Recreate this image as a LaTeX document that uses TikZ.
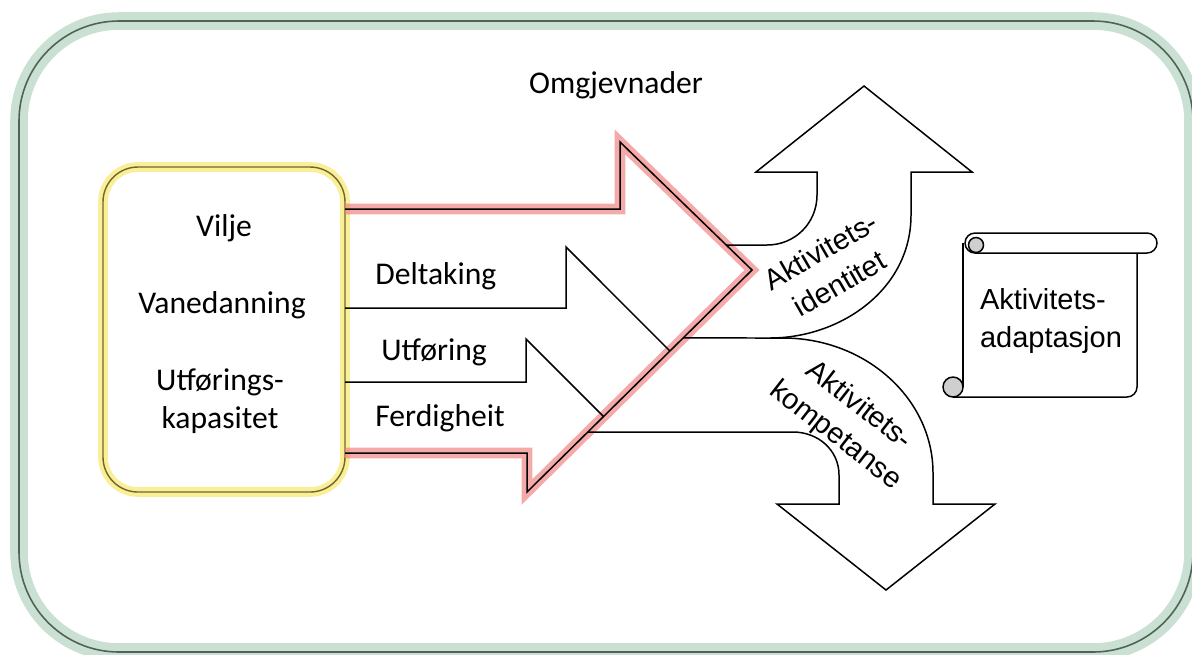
\documentclass[tikz,border=0pt]{standalone}
\usepackage{fontspec}
\usetikzlibrary{calc}
\setmainfont{Carlito}
\newfontfamily\arialfont{Liberation Sans}
\definecolor{framegreen}{HTML}{C9E0D3}
\definecolor{frameline}{HTML}{4F6357}
\definecolor{glowyellow}{HTML}{FAEE96}
\definecolor{boxline}{HTML}{6E6830}
\definecolor{glowred}{HTML}{F07C7C}
\definecolor{curlgray}{HTML}{CFCFCF}
\begin{document}
\begin{tikzpicture}[x=0.02cm, y=-0.02cm]
\tikzstyle{label}    = [font=\fontsize{18}{21.6}\selectfont, inner sep=0pt]
\tikzstyle{sublabel} = [font=\arialfont\fontsize{16.5}{21.5}\selectfont, align=center, inner sep=0pt]
\tikzstyle{outline}  = [line width=0.85pt, line join=miter]
\tikzstyle{redglow}  = [glowred, opacity=0.65, line width=6pt, line join=miter]
%
\useasboundingbox (0,0) rectangle (1192,654);
%
% outer frame
\draw [framegreen, line width=10pt, rounded corners=2cm] (19,21) rectangle (1193,652);
\draw [frameline, line width=0.9pt, rounded corners=2cm] (19,21) rectangle (1193,652);
%
% left box
\draw [glowyellow, line width=5.5pt, rounded corners=0.7cm] (103,167) rectangle (345,492);
\draw [boxline, line width=0.8pt, rounded corners=0.7cm] (103,167) rectangle (345,492);
\node (vilje)  [label] at (224,228) {Vilje};
\node (vane)   [label] at (222,305) {Vanedanning};
\node (utkap)  [label, align=center] at (220,401) {Utførings-\\kapasitet};
%
% big arrow
\coordinate (top)  at (620,142);
\coordinate (tip)  at (752,270);
\coordinate (bot)  at (527,492);
\draw [redglow] (345,209) -- (620,209) -- (top) -- (tip) -- (bot) -- (527,453) -- (345,453);
\draw [outline] (345,209) -- (620,209) -- (top) -- (tip) -- (bot) -- (527,453) -- (345,453);
%
% inner arrows
\draw [outline] (345,308) -- (566,308) -- (566,247) -- ($(tip)!0.365!(bot)$);
\draw [outline] (345,382) -- (526,382) -- (526,339) -- ($(tip)!0.66!(bot)$);
\node (delt) [label, anchor=west] at (375,276) {Deltaking};
\node (utf)  [label, anchor=west] at (381,352) {Utføring};
\node (ferd) [label, anchor=west] at (375,418) {Ferdigheit};
\node (omgj) [label] at (616,85) {Omgjevnader};
%
% upper bent arrow
\draw [outline] ($(top)!0.805!(tip)$) -- (767,245) .. controls (795,245) and (817,223) .. (817,195)
  -- (817,172) -- (756,172) -- (864,86) -- (972,172) -- (911,172) -- (911,215)
  .. controls (911,290) and (840,338) .. (770,338) -- ($(tip)!0.306!(bot)$);
% lower bent arrow
\draw [outline] (770,338) -- (783,338) .. controls (866,338) and (933,399) .. (933,473)
  -- (933,504) -- (995,504) -- (886,590) -- (777,504) -- (839,504) -- (839,475)
  .. controls (839,450) and (818,432) .. (793,432) -- ($(tip)!0.73!(bot)$);
\node (ident) [sublabel, rotate=30]  at (830,267) {Aktivitets-\\identitet};
\node (komp)  [sublabel, rotate=-38] at (847,421) {Aktivitets-\\kompetanse};
%
% scroll
\draw [outline, rounded corners=0.2cm] (1137,253) -- (1137,397) -- (953,397);
\draw [outline] (963,243) -- (963,387);
\draw [outline, fill=white, rounded corners=0.2cm] (965,233) rectangle (1157,253);
\draw [outline, fill=curlgray] (976,245) circle [radius=0.15cm];
\draw [outline, fill=curlgray] (953,387) circle [radius=0.2cm];
\node (adapt) [sublabel, align=left] at (1051,321) {Aktivitets-\\adaptasjon};
\end{tikzpicture}
\end{document}
